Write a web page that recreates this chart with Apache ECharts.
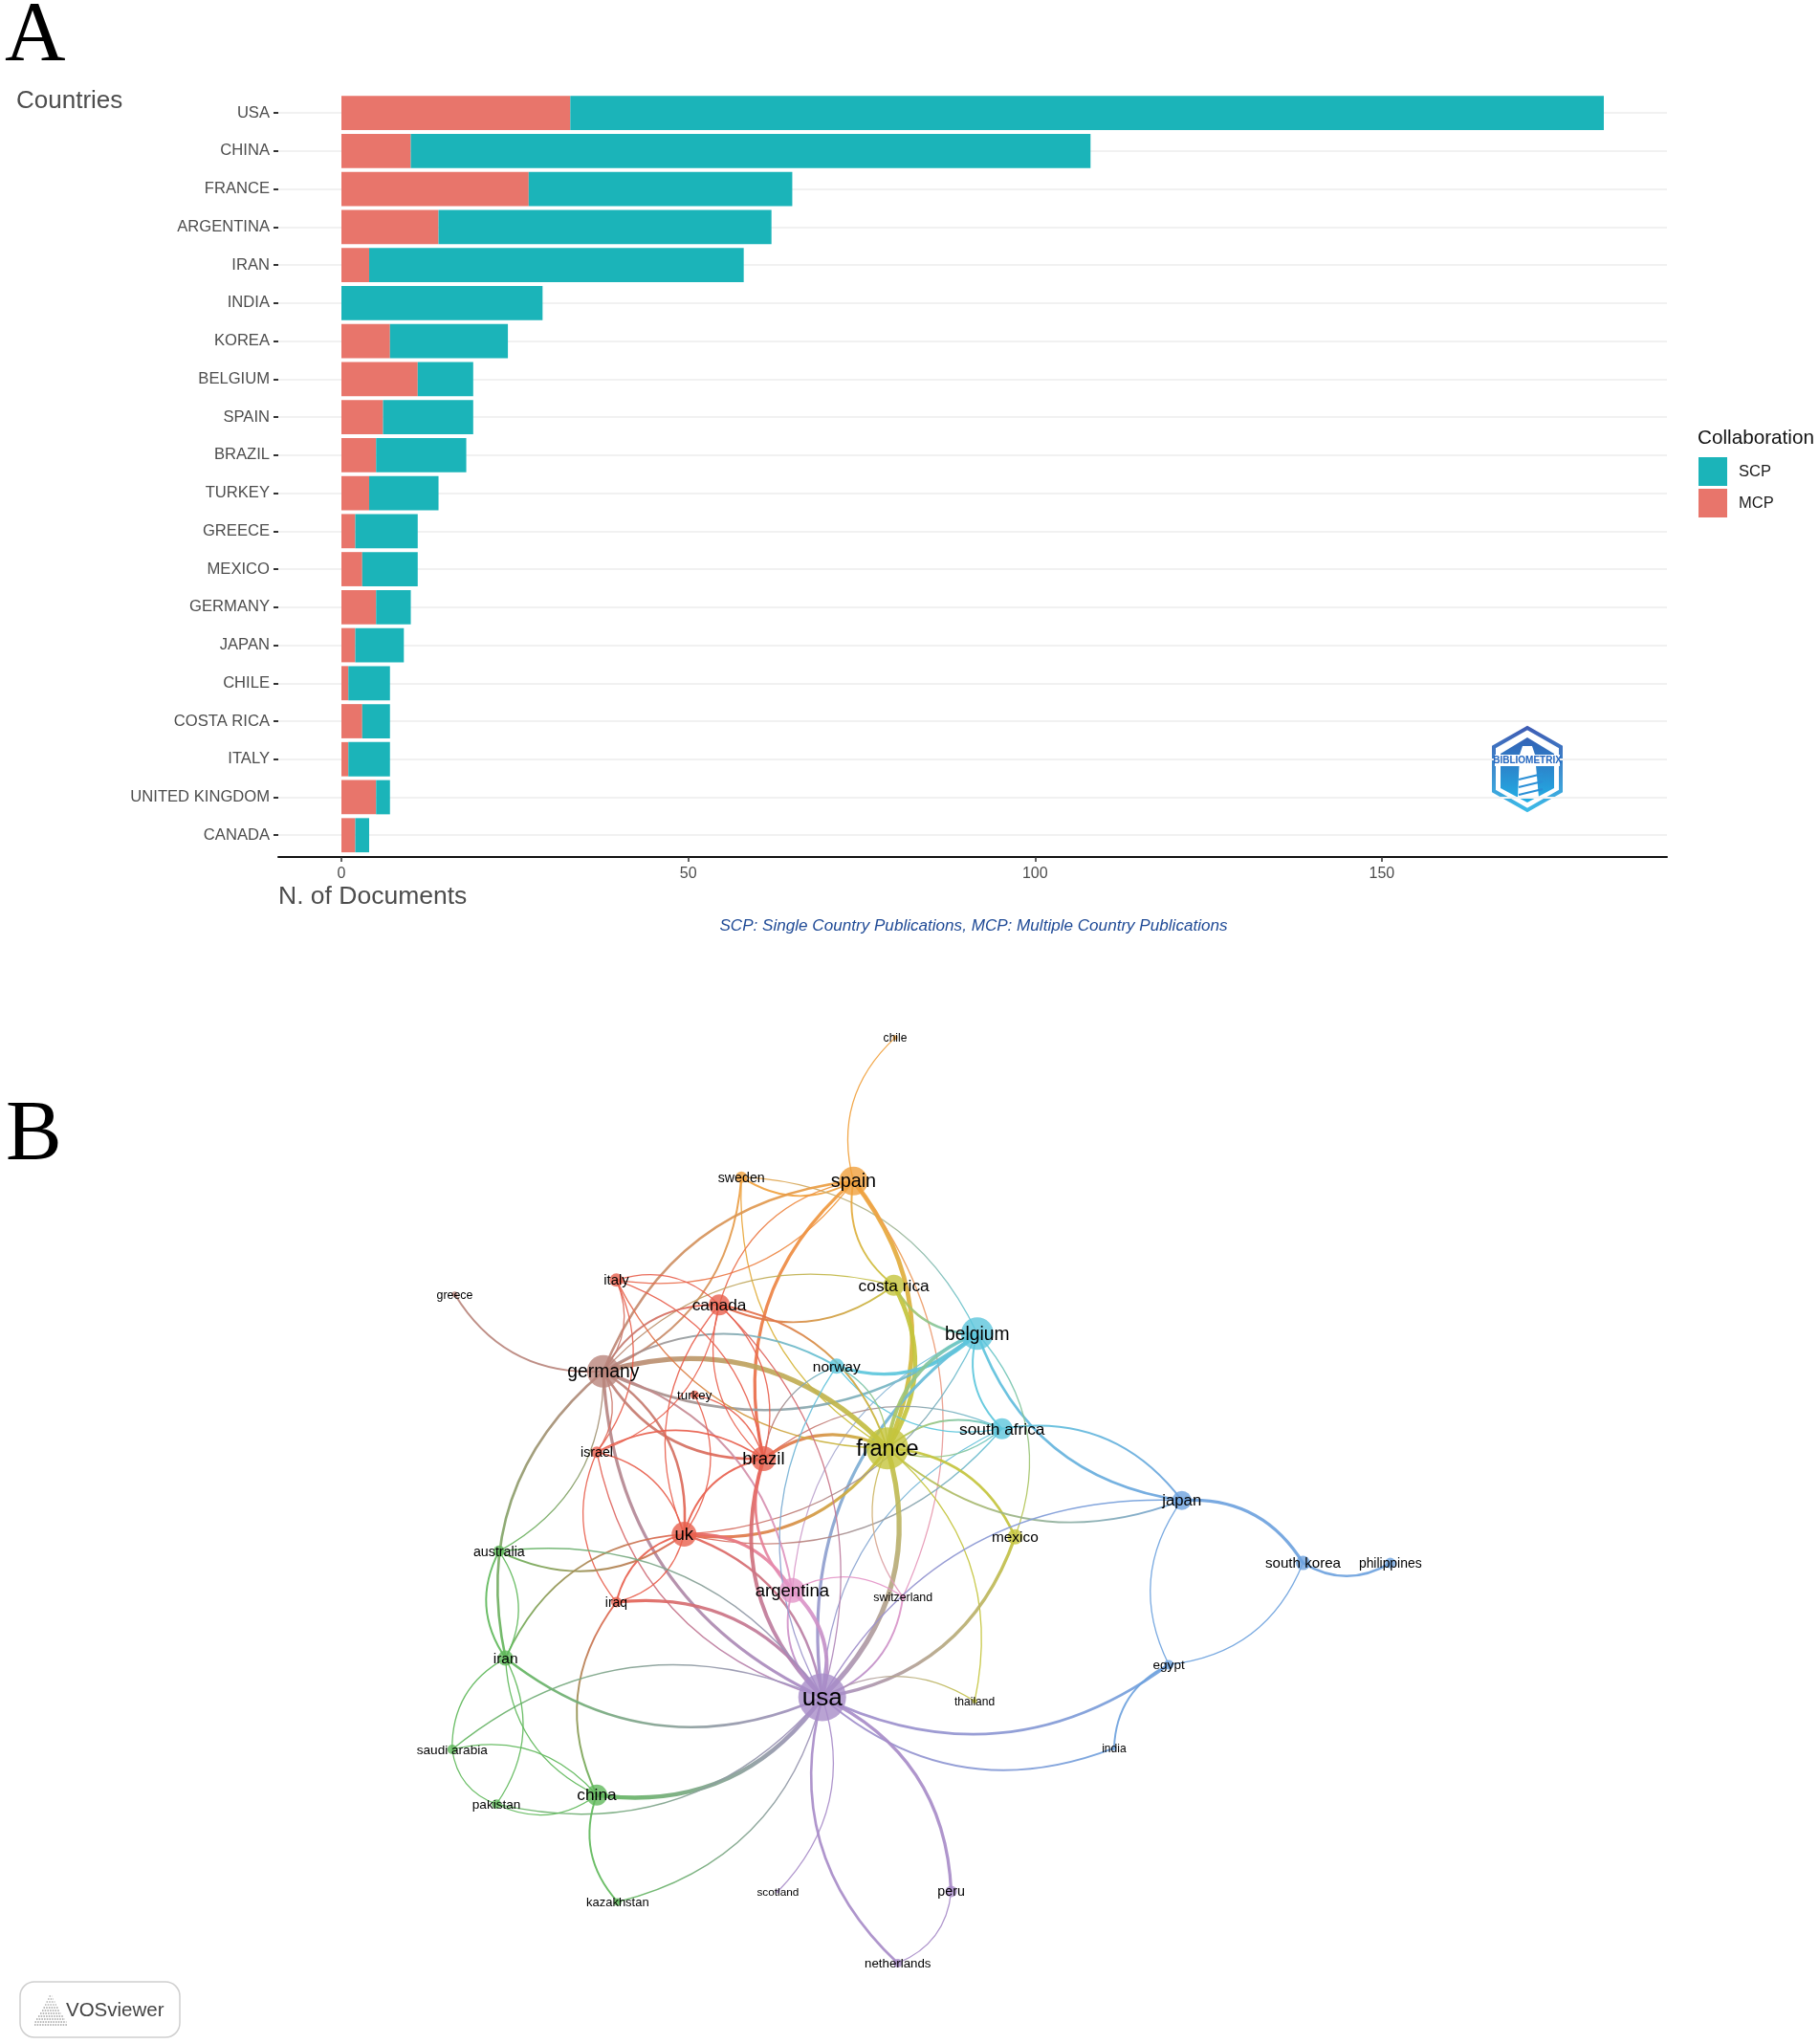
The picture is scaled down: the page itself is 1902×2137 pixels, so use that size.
<!DOCTYPE html>
<html>
<head>
<meta charset="utf-8">
<title>Countries and collaboration</title>
<style>
  html, body { margin: 0; padding: 0; background: #fff; }
  #main { width: 1902px; height: 2137px; }
</style>
<script src="https://cdn.jsdelivr.net/npm/echarts@6/dist/echarts.min.js"></script>
</head>
<body>
<div id="main"></div>
<script>
// panel A values
const countries = ['USA', 'CHINA', 'FRANCE', 'ARGENTINA', 'IRAN', 'INDIA', 'KOREA', 'BELGIUM', 'SPAIN', 'BRAZIL',
  'TURKEY', 'GREECE', 'MEXICO', 'GERMANY', 'JAPAN', 'CHILE', 'COSTA RICA', 'ITALY', 'UNITED KINGDOM', 'CANADA']
const mcp = [33, 10, 27, 14, 4, 0, 7, 11, 6, 5, 4, 2, 3, 5, 2, 1, 3, 1, 5, 2]
const scp = [149, 98, 38, 48, 54, 29, 17, 8, 13, 13, 10, 9, 8, 5, 7, 6, 4, 6, 2, 2]
const docTicks = [0, 50, 100, 150]

const nodeNames = ['chile', 'spain', 'sweden', 'greece', 'italy', 'canada', 'costa rica', 'belgium', 'germany', 'norway',
  'turkey', 'south africa', 'france', 'brazil', 'israel', 'japan', 'uk', 'mexico', 'australia', 'south korea',
  'philippines', 'argentina', 'switzerland', 'iraq', 'iran', 'egypt', 'usa', 'thailand', 'india', 'saudi arabia',
  'pakistan', 'china', 'kazakhstan', 'scotland', 'peru', 'netherlands']
const nodeX = [687, 655, 569, 349, 473, 552, 686, 750, 463, 642,
  533, 769, 681, 586, 458, 907, 525, 779, 383, 1000,
  1067, 608, 693, 473, 388, 897, 631, 748, 855, 347,
  381, 458, 474, 597, 730, 689]
const nodeY = [796, 906, 903, 993, 982, 1001, 986, 1023, 1052, 1048,
  1070, 1096, 1111, 1119, 1114, 1151, 1177, 1179, 1190, 1199,
  1199, 1220, 1225, 1229, 1272, 1277, 1302, 1305, 1341, 1342,
  1384, 1377, 1459, 1451, 1451, 1506]
const nodeSize = [5, 30, 12, 6, 14, 22, 22, 34, 34, 16,
  9, 22, 44, 26, 12, 20, 26, 16, 12, 15,
  11, 26, 6, 11, 16, 10, 50, 5, 5, 10,
  10, 22, 8, 4, 12, 9]
const nodeCluster = ['orange', 'orange', 'orange', 'brown', 'red', 'red', 'olive', 'cyan', 'brown', 'cyan',
  'red', 'cyan', 'olive', 'red', 'red', 'blue', 'red', 'olive', 'green', 'blue',
  'blue', 'pink', 'pink', 'red', 'green', 'blue', 'purple', 'olive', 'blue', 'green',
  'green', 'green', 'green', 'purple', 'purple', 'purple']

// from, to, strength (written so that each arc bends to the left of its direction)
const linkList = [
  ['spain', 'chile', 1], ['spain', 'sweden', 2], ['sweden', 'belgium', 1], ['sweden', 'germany', 2],
  ['france', 'sweden', 1], ['germany', 'spain', 3], ['spain', 'italy', 1], ['canada', 'spain', 1],
  ['brazil', 'spain', 4], ['costa rica', 'spain', 2], ['spain', 'france', 6], ['spain', 'switzerland', 1],
  ['germany', 'costa rica', 1], ['costa rica', 'canada', 2], ['costa rica', 'france', 6], ['belgium', 'costa rica', 3],
  ['belgium', 'germany', 3], ['belgium', 'norway', 4], ['germany', 'norway', 2], ['south africa', 'norway', 1],
  ['argentina', 'belgium', 1], ['south africa', 'belgium', 2], ['japan', 'belgium', 3], ['south africa', 'japan', 2],
  ['usa', 'belgium', 4], ['france', 'belgium', 5], ['belgium', 'mexico', 1], ['usa', 'south africa', 1],
  ['south africa', 'uk', 1], ['brazil', 'south africa', 1], ['france', 'south africa', 2], ['south africa', 'france', 1],
  ['germany', 'france', 7], ['brazil', 'france', 4], ['france', 'uk', 4], ['france', 'italy', 1],
  ['canada', 'france', 2], ['norway', 'france', 1], ['france', 'usa', 7], ['france', 'mexico', 3],
  ['japan', 'france', 2], ['france', 'thailand', 1], ['mexico', 'usa', 4], ['switzerland', 'france', 1],
  ['argentina', 'switzerland', 1], ['canada', 'usa', 1], ['belgium', 'uk', 1], ['germany', 'greece', 2],
  ['italy', 'israel', 1], ['italy', 'germany', 1], ['italy', 'canada', 1], ['italy', 'brazil', 1],
  ['germany', 'canada', 2], ['brazil', 'germany', 3], ['germany', 'uk', 3], ['usa', 'germany', 4],
  ['germany', 'argentina', 2], ['iran', 'germany', 3], ['germany', 'israel', 1], ['germany', 'australia', 1],
  ['canada', 'israel', 1], ['brazil', 'canada', 1], ['uk', 'canada', 1], ['canada', 'brazil', 1],
  ['turkey', 'uk', 1], ['turkey', 'brazil', 1], ['israel', 'brazil', 2], ['israel', 'uk', 1],
  ['iraq', 'israel', 1], ['usa', 'israel', 1], ['iraq', 'uk', 2], ['uk', 'iraq', 1],
  ['iraq', 'usa', 4], ['china', 'iraq', 2], ['uk', 'brazil', 2], ['uk', 'argentina', 4],
  ['uk', 'australia', 2], ['iran', 'uk', 2], ['uk', 'usa', 3], ['usa', 'brazil', 5],
  ['argentina', 'brazil', 3], ['argentina', 'usa', 5], ['usa', 'argentina', 2], ['brazil', 'norway', 1],
  ['usa', 'norway', 1], ['switzerland', 'usa', 2], ['usa', 'japan', 1], ['usa', 'thailand', 1],
  ['egypt', 'usa', 3], ['india', 'usa', 2], ['usa', 'peru', 4], ['netherlands', 'usa', 3],
  ['peru', 'netherlands', 1], ['usa', 'scotland', 1], ['usa', 'kazakhstan', 1], ['usa', 'china', 6],
  ['usa', 'pakistan', 1], ['usa', 'iran', 3], ['saudi arabia', 'usa', 1], ['australia', 'usa', 1],
  ['china', 'iran', 1], ['iran', 'pakistan', 1], ['saudi arabia', 'iran', 1], ['australia', 'iran', 1],
  ['iran', 'australia', 2], ['pakistan', 'saudi arabia', 1], ['saudi arabia', 'china', 1], ['china', 'pakistan', 1],
  ['kazakhstan', 'china', 2], ['japan', 'south korea', 4], ['philippines', 'south korea', 3], ['egypt', 'japan', 1],
  ['south korea', 'egypt', 1], ['india', 'egypt', 2]
]

const clusterColor = {
  olive: '#c4c43c', orange: '#f0a03c', brown: '#b9857c', red: '#e8604e', cyan: '#5cc6dc',
  blue: '#6ea2de', green: '#5fb85a', purple: '#a88cc8', pink: '#e496c8'
}
const colorOf = {}
const posOf = {}
nodeNames.forEach((n, i) => {
  colorOf[n] = clusterColor[nodeCluster[i]]
  posOf[n] = [nodeX[i], nodeY[i]]
})

// these labels are set a bit smaller than their circles suggest
const labelOverride = { germany: 19.3, belgium: 19.3, france: 23.5 }

// each arc fades from the colour of one country to the other
function fade(a, b) {
  const leftToRight = posOf[a][0] < posOf[b][0]
  const topToBottom = posOf[a][1] < posOf[b][1]
  return {
    type: 'linear',
    x: leftToRight ? 0 : 1, y: topToBottom ? 0 : 1,
    x2: leftToRight ? 1 : 0, y2: topToBottom ? 1 : 0,
    colorStops: [{ offset: 0, color: colorOf[a] }, { offset: 1, color: colorOf[b] }]
  }
}

const labelFont = 'Liberation Sans, Arial, sans-serif'
const grey = '#4d4d4d'

const hexOuter = [[0, -43], [35, -23], [35, 23], [0, 43], [-35, 23], [-35, -23]]
const hexInner = [[0, -33], [28, -16], [28, 20], [0, 35], [-28, 20], [-28, -16]]

function plainText(text, x, y, size, extra) {
  return {
    type: 'text', x, y, silent: true,
    style: Object.assign({ text, font: size + 'px ' + labelFont, fill: grey, verticalAlign: 'middle' }, extra)
  }
}

// pale dotted triangle of the VOSviewer badge
const vosIcon = []
const vosRows = [3, 6, 9, 12, 15, 18, 22, 26, 30, 33, 34]
vosRows.forEach((w, i) => {
  vosIcon.push({
    type: 'line', silent: true,
    shape: { x1: 53 - w / 2, y1: 2087 + i * 3, x2: 53 + w / 2, y2: 2087 + i * 3 },
    style: { stroke: i < 4 ? '#b8b8b8' : '#a8a8a8', lineWidth: 2, lineDash: [1.5, 1.2], opacity: 0.8 }
  })
})

const myChart = echarts.init(document.getElementById('main'), null, { renderer: 'canvas' })

const opt = {
  animation: false,
  backgroundColor: '#fff',
  grid: [
    { left: 291, top: 98.3, width: 1452, height: 794.8 },
    { left: 0, top: 0, right: 0, bottom: 0 }
  ],
  legend: {
    data: ['SCP', 'MCP'],
    orient: 'vertical',
    left: 1776, top: 478,
    padding: 0,
    icon: 'rect',
    itemWidth: 30, itemHeight: 30, itemGap: 3,
    selectedMode: false,
    textStyle: { fontFamily: labelFont, fontSize: 16.5, color: '#1a1a1a', padding: [0, 0, 0, 7] }
  },
  xAxis: [
    {
      type: 'value', gridIndex: 0, position: 'bottom', offset: 3,
      min: -9.1, max: 191.1,
      axisLine: { show: true, onZero: false, lineStyle: { color: '#111', width: 2 } },
      axisTick: { show: true, length: 5, customValues: docTicks, lineStyle: { color: '#333', width: 1.5 } },
      axisLabel: { customValues: docTicks, margin: 9, fontFamily: labelFont, fontSize: 16, color: grey },
      splitLine: { show: false }
    },
    { type: 'value', gridIndex: 1, min: 0, max: 1396, show: false, splitLine: { show: false } }
  ],
  yAxis: [
    {
      type: 'category', gridIndex: 0, data: countries, inverse: true,
      axisLine: { show: false, onZero: false },
      axisTick: { show: true, length: 5, alignWithLabel: true, lineStyle: { color: '#333', width: 2 } },
      axisLabel: { margin: 9, fontFamily: labelFont, fontSize: 16.6, color: grey, interval: 0 },
      splitLine: { show: true, alignWithLabel: true, interval: 0, lineStyle: { color: '#f1f1f1', width: 2 } }
    },
    { type: 'value', gridIndex: 1, min: 0, max: 1568, inverse: true, show: false, splitLine: { show: false } }
  ],
  series: [
    {
      name: 'MCP', type: 'bar', stack: 'docs', xAxisIndex: 0, yAxisIndex: 0,
      barWidth: '90%', data: mcp, itemStyle: { color: '#e8756b' }
    },
    {
      name: 'SCP', type: 'bar', stack: 'docs', xAxisIndex: 0, yAxisIndex: 0,
      barWidth: '90%', data: scp, itemStyle: { color: '#1bb4b9' }
    },
    {
      name: 'map', type: 'graph', coordinateSystem: 'cartesian2d', xAxisIndex: 1, yAxisIndex: 1,
      layout: 'none', roam: false, silent: true,
      data: nodeNames.map((n, i) => ({
        name: n,
        value: [nodeX[i], nodeY[i]],
        symbolSize: nodeSize[i],
        itemStyle: { color: colorOf[n] + 'cc' },
        label: {
          show: true, position: 'inside', offset: [0, 1], color: '#000', opacity: 1, fontFamily: labelFont,
          textBorderWidth: 0,
          fontSize: labelOverride[n] || Math.max(11.8, 10.5 + nodeSize[i] * 0.31)
        }
      })),
      links: linkList.map(l => ({
        source: l[0], target: l[1],
        lineStyle: { color: fade(l[0], l[1]), width: 0.65 + l[2] * 0.65, curveness: 0.3, opacity: 0.92 }
      }))
    }
  ],
  graphic: {
    elements: [
      plainText('A', 5, 39, 88, { font: '88px Liberation Serif, serif', fill: '#000' }),
      plainText('B', 6, 1188, 88, { font: '88px Liberation Serif, serif', fill: '#000' }),
      plainText('Countries', 17, 106, 26),
      plainText('N. of Documents', 291, 938, 26.5),
      plainText('SCP: Single Country Publications, MCP: Multiple Country Publications', 1018, 968, 17,
        { font: 'italic 17.1px ' + labelFont, fill: '#1f4a96', align: 'center' }),
      plainText('Collaboration', 1775, 458, 20.7, { fill: '#111' }),
      // bibliometrix badge
      {
        type: 'group', x: 1597, y: 804, silent: true,
        children: [
          {
            type: 'polygon', shape: { points: hexOuter },
            style: {
              fill: '#fff', lineWidth: 4, lineJoin: 'miter',
              stroke: new echarts.graphic.LinearGradient(0, 0, 0, 1, [
                { offset: 0, color: '#3f5cb4' }, { offset: 1, color: '#3cbce8' }
              ])
            }
          },
          {
            type: 'polygon', shape: { points: hexInner },
            style: {
              fill: new echarts.graphic.LinearGradient(0, 0, 0, 1, [
                { offset: 0, color: '#3461b5' }, { offset: 1, color: '#22b0e6' }
              ])
            }
          },
          { type: 'polygon', shape: { points: [[-5, -24], [5, -24], [8, -15], [12, 30], [-10, 30], [-8, -15]] }, style: { fill: '#fff' } },
          { type: 'rect', shape: { x: -34, y: -15, width: 68, height: 12 }, style: { fill: '#fff' } },
          { type: 'line', shape: { x1: -9, y1: 11, x2: 16, y2: 5 }, style: { stroke: '#2a8fd6', lineWidth: 2 } },
          { type: 'line', shape: { x1: -9, y1: 19, x2: 16, y2: 13 }, style: { stroke: '#2a8fd6', lineWidth: 2 } },
          { type: 'line', shape: { x1: -9, y1: 27, x2: 16, y2: 21 }, style: { stroke: '#2a8fd6', lineWidth: 2 } },
          {
            type: 'text', x: 0, y: -9, z2: 10,
            style: { text: 'BIBLIOMETRIX', font: 'bold 10px ' + labelFont, fill: '#2467c0', align: 'center', verticalAlign: 'middle' }
          }
        ]
      },
      // VOSviewer badge
      {
        type: 'rect', silent: true,
        shape: { x: 21, y: 2072, width: 167, height: 58, r: 15 },
        style: { fill: '#fff', stroke: '#cfcfcf', lineWidth: 1.5 }
      },
      ...vosIcon,
      plainText('VOSviewer', 69, 2102, 20.5, { fill: '#444' })
    ]
  }
}

myChart.setOption(opt)
</script>
</body>
</html>
